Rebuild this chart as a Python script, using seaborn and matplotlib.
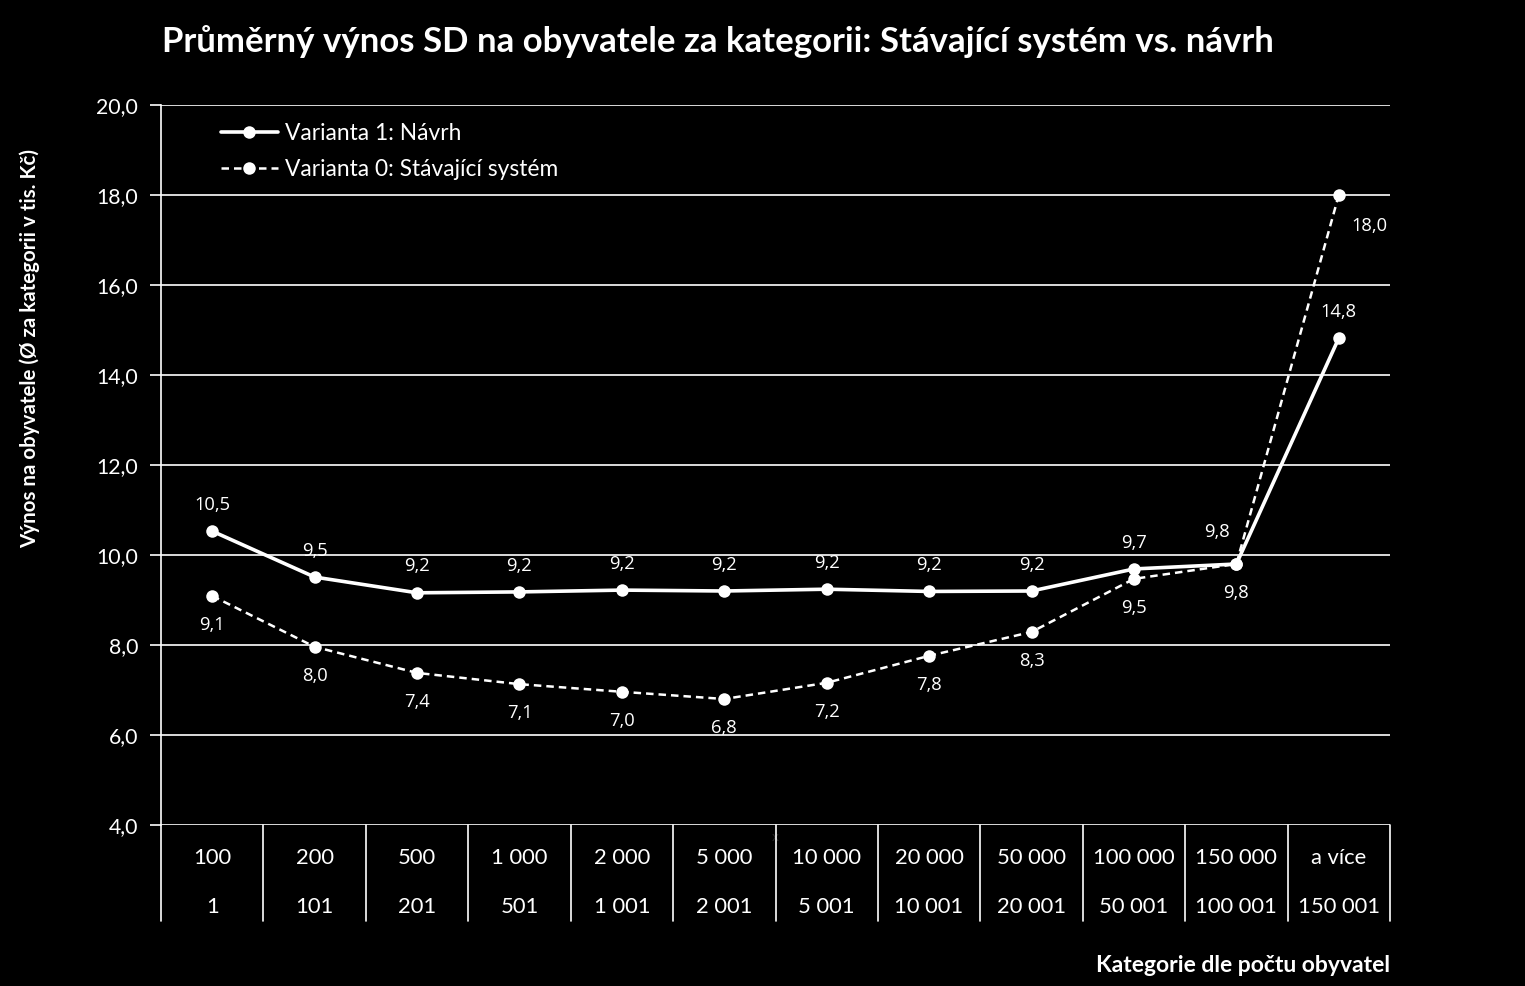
import pandas as pd
import matplotlib.pyplot as plt
import matplotlib.transforms as mtransforms
import seaborn as sns

# category labels (upper bound / lower bound of population category)
cat_upper = ['100', '200', '500', '1 000', '2 000', '5 000', '10 000',
             '20 000', '50 000', '100 000', '150 000', 'a více']
cat_lower = ['1', '101', '201', '501', '1 001', '2 001', '5 001',
             '10 001', '20 001', '50 001', '100 001', '150 001']

# average yield per inhabitant (thousand CZK)
varianta_1 = [10.53, 9.51, 9.16, 9.18, 9.22, 9.20, 9.24, 9.19, 9.20, 9.69, 9.80, 14.82]
varianta_0 = [9.09, 7.96, 7.38, 7.13, 6.96, 6.80, 7.16, 7.76, 8.29, 9.47, 9.80, 18.00]

y_ticks = [4, 6, 8, 10, 12, 14, 16, 18, 20]

df = pd.DataFrame({'x': range(len(cat_upper)), 'v1': varianta_1, 'v0': varianta_0})

sns.set_style('dark')
plt.rcParams['font.family'] = ['Lato', 'DejaVu Sans']

fig = plt.figure(figsize=(15.25, 9.86), dpi=100, facecolor='black')
ax = fig.add_axes([161 / 1525, 1 - 825 / 986, (1390 - 161) / 1525, (825 - 105) / 986])
ax.set_facecolor('black')

sns.lineplot(data=df, x='x', y='v1', ax=ax, color='white', linewidth=2.6,
             marker='o', markersize=9, markeredgewidth=0,
             label='Varianta 1: Návrh', zorder=4)
sns.lineplot(data=df, x='x', y='v0', ax=ax, color='white', linewidth=1.8,
             linestyle=(0, (3, 2)), marker='o', markersize=9, markeredgewidth=0,
             label='Varianta 0: Stávající systém', zorder=3)

ax.set_xlim(-0.5, len(cat_upper) - 0.5)
ax.set_ylim(4, 20)
ax.set_yticks(y_ticks)
ax.set_yticklabels([f'{v:.1f}'.replace('.', ',') for v in y_ticks],
                   color='white', fontsize=15.3)
ax.tick_params(axis='y', length=8, width=1.2, color='white', direction='out', pad=8.5, left=True)
ax.set_xticks([])
ax.grid(axis='y', color='white', linewidth=1.2)
ax.grid(axis='x', visible=False)
for s in ['top', 'right', 'bottom']:
    ax.spines[s].set_visible(False)
ax.spines['left'].set_visible(True)
ax.spines['left'].set_color('white')
ax.spines['left'].set_linewidth(1.2)

# category table under the axis
trans = mtransforms.blended_transform_factory(ax.transData, ax.transAxes)
for i in range(len(cat_upper) + 1):
    ax.plot([i - 0.5, i - 0.5], [0, -96 / 720], color='white', linewidth=1.2,
            transform=trans, clip_on=False)
for i, (u, l) in enumerate(zip(cat_upper, cat_lower)):
    ax.text(i, -33 / 720, u, transform=trans, ha='center', va='center',
            color='white', fontsize=15.8)
    ax.text(i, -82 / 720, l, transform=trans, ha='center', va='center',
            color='white', fontsize=15.8)

# data labels
lab_font = dict(color='white', fontsize=13.2, family=['Open Sans', 'DejaVu Sans'],
                ha='center', va='center', textcoords='offset points')
for i, v in enumerate(varianta_1):
    off = (-14, 23) if i == 10 else (0, 19)
    ax.annotate(f'{v:.1f}'.replace('.', ','), (i, v), xytext=off, **lab_font)
for i, v in enumerate(varianta_0):
    off = (22, -22) if i == 11 else (0, -21)
    ax.annotate(f'{v:.1f}'.replace('.', ','), (i, v), xytext=off, **lab_font)

leg = ax.legend(loc='upper left', bbox_to_anchor=(0.032, 1.003), frameon=False,
                handlelength=2.5, handletextpad=0.3, labelspacing=0.65,
                fontsize=16.4, labelcolor='white')

ax.set_ylabel('Výnos na obyvatele (Ø za kategorii v tis. Kč)', color='white',
              fontsize=14.8, fontweight='bold')
ax.yaxis.set_label_coords(-121 / 1229, (825 - 349) / 720)

fig.text(718 / 1525, 1 - 42 / 986,
         'Průměrný výnos SD na obyvatele za kategorii: Stávající systém vs. návrh',
         ha='center', va='center', color='white', fontsize=25, fontweight='bold')
fig.text(1390 / 1525, 1 - 966 / 986, 'Kategorie dle počtu obyvatel',
         ha='right', va='center', color='white', fontsize=16.5, fontweight='bold')

fig.savefig('out.png', dpi=100, facecolor='black')
